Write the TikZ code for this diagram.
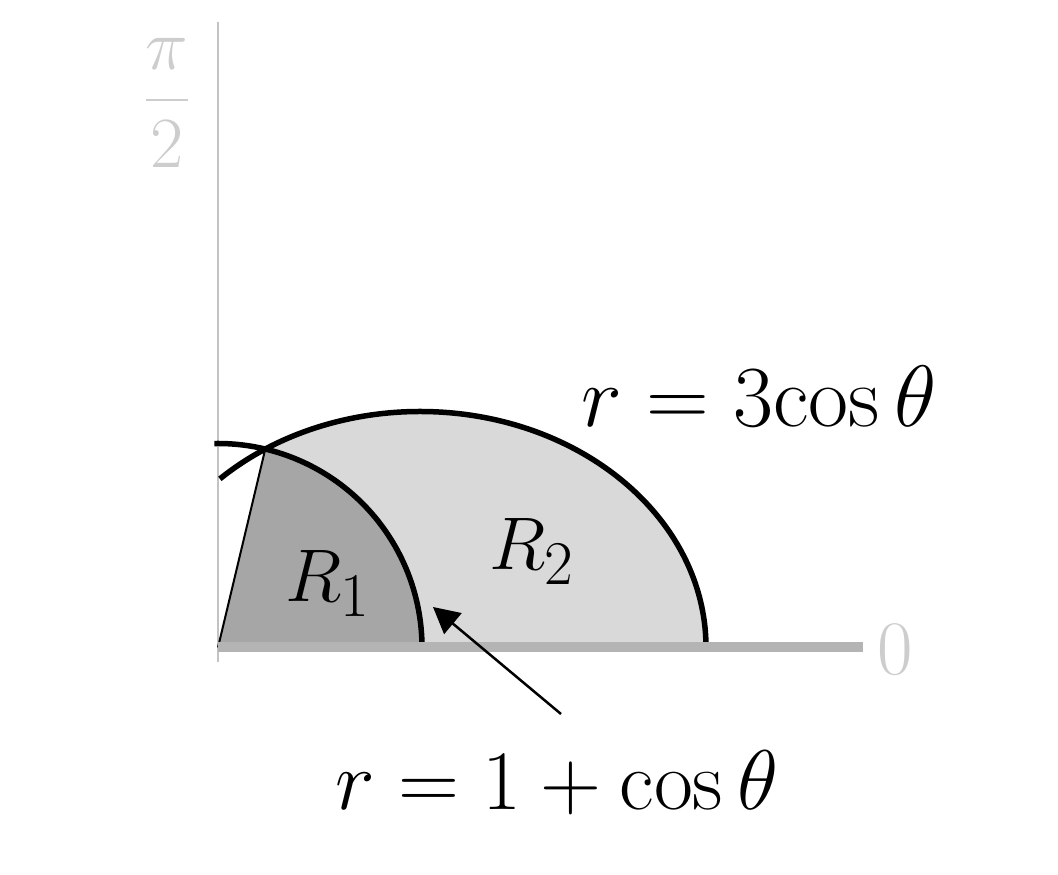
\documentclass[tikz,border=0pt]{standalone}
\usetikzlibrary{arrows.meta,calc}
\definecolor{darkfill}{RGB}{166,166,166}
\definecolor{lightfill}{RGB}{217,217,217}
\definecolor{axisgray}{RGB}{180,180,180}
\definecolor{yaxisgray}{RGB}{195,195,195}
\definecolor{labelgray}{RGB}{205,205,205}
\tikzset{
  curve/.style={line width=5.5pt,black},
  thinline/.style={line width=2pt,black},
  bigmath/.style={anchor=base,inner sep=0pt,scale=#1},
  pointer/.style={line width=2.5pt,-{Triangle[length=26pt,width=27pt]}}
}
\begin{document}
\begin{tikzpicture}[x=1pt,y=1pt]
\useasboundingbox (0,0) rectangle (1058,875);
% key points
\coordinate (O) at (218,227.5);
\coordinate (I) at ($(O)+(76.6:204)$);
\coordinate (Iend) at (422,227.5);
\coordinate (Oend) at (706,227.5);
% y-axis
\coordinate (ytop) at (218,853);
\coordinate (ybot) at (218,213);
\draw[yaxisgray,line width=2pt] (ybot) -- (ytop);
% fills
\fill[lightfill] (Oend) arc[start angle=0,end angle=122.7,x radius=286,y radius=236]
   arc[start angle=76.6,end angle=0,radius=204] -- cycle;
\fill[darkfill] (O) -- (I) arc[start angle=76.6,end angle=0,radius=204] -- cycle;
% curves
\draw[thinline] (O) -- (I);
\draw[curve] (Iend) arc[start angle=0,end angle=91,radius=204];
\draw[curve] (Oend) arc[start angle=0,end angle=134.4,x radius=286,y radius=236];
% x-axis
\coordinate (xend) at (863,227.5);
\draw[axisgray,line width=10pt] (O) -- (xend);
% labels
\node[bigmath=3.5] (lab3) at (759,448) {\Huge $r = 3\mathrm{cos}\,\theta$};
\node[bigmath=3.4] (lab1) at (557,65) {\Huge $r = 1 + \cos\theta$};
\node[bigmath=3.0] (R1) at (328,273) {\Huge $R_1$};
\node[bigmath=3.0] (R2) at (532,305) {\Huge $R_2$};
\node[bigmath=3.1,text=labelgray] (zero) at (895,200) {\Huge $0$};
\node[bigmath=2.9,text=labelgray] (pihalf) at (167,757) {\Huge $\displaystyle\frac{\pi}{2}$};
% arrow
\coordinate (atail) at (561,161);
\coordinate (ahead) at (433,268);
\draw[pointer] (atail) -- (ahead);
\end{tikzpicture}
\end{document}
